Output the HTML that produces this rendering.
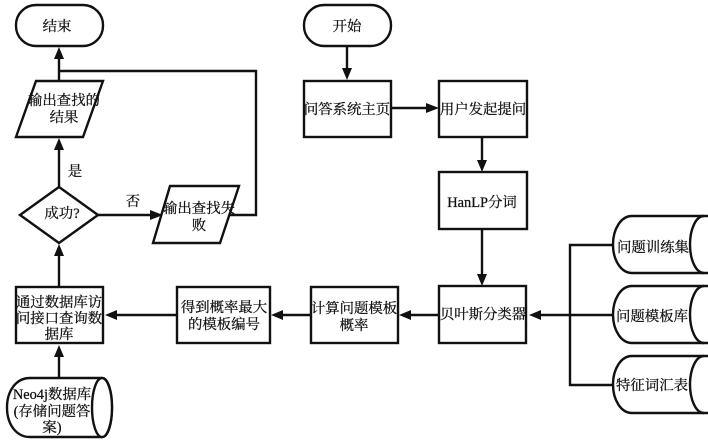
<!DOCTYPE html>
<html>
<head>
<meta charset="utf-8">
<style>
html,body{margin:0;padding:0;background:#fff;width:708px;height:443px;overflow:hidden}
svg{display:block;filter:blur(0.35px)}
text{font-family:"Liberation Serif","Noto Serif CJK SC",serif;font-size:14.4px;fill:#111;stroke:#111;stroke-width:0.25px;text-anchor:middle}
.s{fill:#fff;stroke:#111;stroke-width:2.4}
.l{fill:none;stroke:#111;stroke-width:2.4}
.a{fill:#111;stroke:none}
</style>
</head>
<body>
<svg width="708" height="443" viewBox="0 0 708 443" xmlns="http://www.w3.org/2000/svg">
<!-- connectors -->
<path class="l" d="M59 81V55M59 71H256V215H230"/>
<path class="a" d="M59 47L64 59H54Z"/>
<path class="l" d="M59 187V146"/>
<path class="a" d="M59 138L64 150H54Z"/>
<path class="l" d="M98 215H152"/>
<path class="a" d="M163 215L150 210V220Z"/>
<path class="l" d="M59 287V252"/>
<path class="a" d="M59 244L64 256H54Z"/>
<path class="l" d="M177 315H113"/>
<path class="a" d="M105 315L117 310V320Z"/>
<path class="l" d="M59 378V353"/>
<path class="a" d="M59 345L64 357H54Z"/>
<path class="l" d="M311 315H280"/>
<path class="a" d="M271 315L283 310V320Z"/>
<path class="l" d="M439 315H408"/>
<path class="a" d="M399 315L411 310V320Z"/>
<path class="l" d="M347 47V72"/>
<path class="a" d="M347 80L342 68H352Z"/>
<path class="l" d="M391 108H428"/>
<path class="a" d="M439 108L426 103V113Z"/>
<path class="l" d="M482 137V162"/>
<path class="a" d="M482 172L477 160H487Z"/>
<path class="l" d="M482 229V276"/>
<path class="a" d="M482 286L477 274H487Z"/>
<path class="l" d="M613 245H570V385H613M613 315H538"/>
<path class="a" d="M529 315L541 310V320Z"/>

<!-- terminals -->
<rect class="s" x="16" y="5" width="87" height="41" rx="20" ry="20"/>
<text x="57" y="31">结束</text>
<rect class="s" x="304" y="5" width="87" height="41" rx="20" ry="20"/>
<text x="347" y="31">开始</text>

<!-- parallelograms -->
<path class="s" d="M36 81H103L83 137H16Z"/>
<text x="64" y="105">输出查找的</text>
<text x="64" y="122">结果</text>
<path class="s" d="M98 215L59 187L20 215L59 243Z"/>
<text x="62" y="218">成功?</text>
<path class="s" d="M170 186H239L220 243H153Z"/>
<text x="199" y="213">输出查找失</text>
<text x="199" y="230">败</text>

<text x="75" y="176">是</text>
<text x="133" y="206">否</text>

<!-- boxes -->
<rect class="s" x="16" y="287" width="87" height="56"/>
<text x="59" y="307">通过数据库访</text>
<text x="59" y="323">问接口查询数</text>
<text x="59" y="339">据库</text>

<rect class="s" x="177" y="287" width="93" height="56"/>
<text x="224" y="312">得到概率最大</text>
<text x="224" y="329">的模板编号</text>

<rect class="s" x="311" y="287" width="87" height="56"/>
<text x="354" y="313">计算问题模板</text>
<text x="354" y="330">概率</text>

<rect class="s" x="439" y="286" width="87" height="57"/>
<text x="483" y="319">贝叶斯分类器</text>

<rect class="s" x="304" y="81" width="87" height="56"/>
<text x="347" y="114">问答系统主页</text>
<rect class="s" x="439" y="81" width="88" height="56"/>
<text x="483" y="114">用户发起提问</text>
<rect class="s" x="439" y="172" width="88" height="57"/>
<text x="482" y="207">HanLP分词</text>

<!-- Neo4j cylinder -->
<path class="s" d="M30 378H102C108 378 112 391 112 407.500C112 424 108 437 102 437H30C16 437 7 424 7 407.500C7 391 16 378 30 378Z"/>
<ellipse class="s" cx="102" cy="407.500" rx="10" ry="29.500"/>
<text x="52" y="399">Neo4j数据库</text>
<text x="52" y="416">(存储问题答</text>
<text x="52" y="432">案)</text>

<!-- right stores -->
<path class="s" d="M632 216H712V273H632C621 273 613 260 613 244.500C613 229 621 216 632 216Z"/>
<path class="l" d="M704 216C696 216 690 229 690 244.500C690 260 696 273 704 273"/>
<text x="653" y="252">问题训练集</text>
<path class="s" d="M632 286H712V343H632C621 343 613 330 613 314.500C613 299 621 286 632 286Z"/>
<path class="l" d="M704 286C696 286 690 299 690 314.500C690 330 696 343 704 343"/>
<text x="652" y="321">问题模板库</text>
<path class="s" d="M632 356H712V413H632C621 413 613 400 613 384.500C613 369 621 356 632 356Z"/>
<path class="l" d="M704 356C696 356 690 369 690 384.500C690 400 696 413 704 413"/>
<text x="652" y="390">特征词汇表</text>
</svg>
</body>
</html>
